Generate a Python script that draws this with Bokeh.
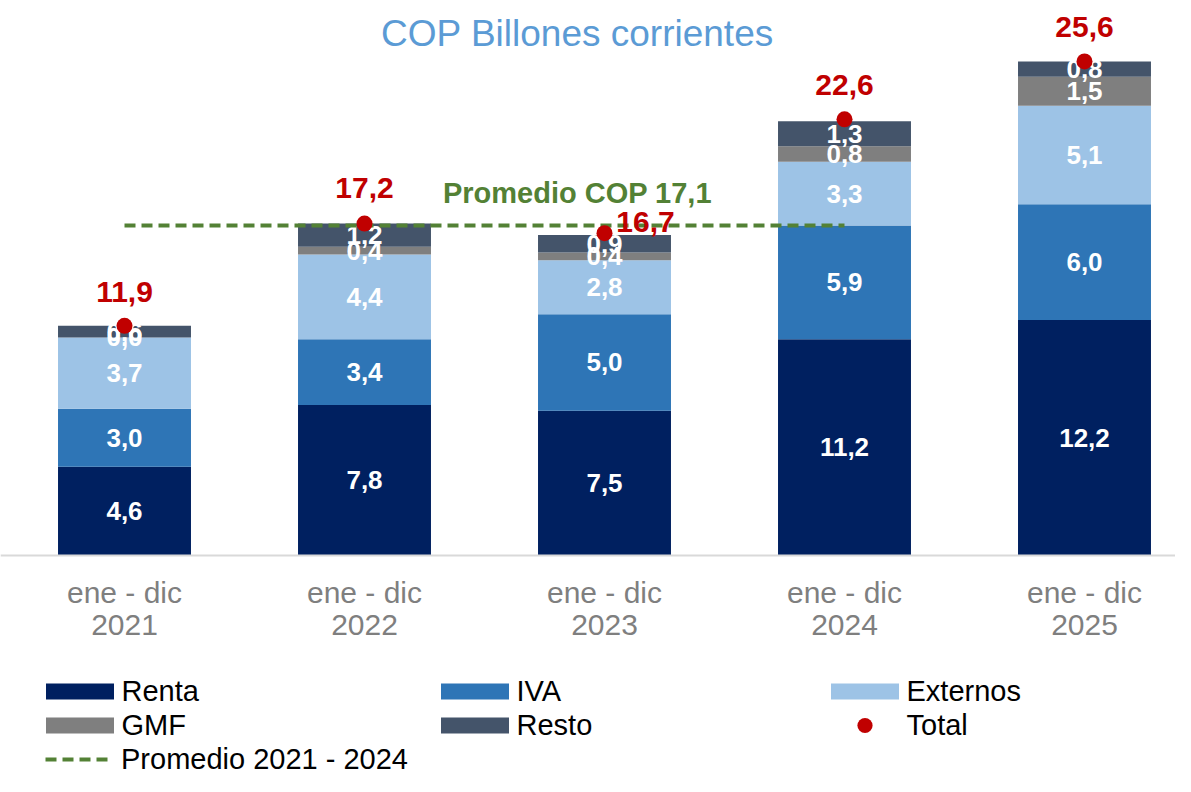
from bokeh.plotting import figure
from bokeh.models import ColumnDataSource, Range1d, Span, Legend, LegendItem
from bokeh.core.properties import value
from bokeh.embed import file_html
from bokeh.resources import INLINE

# ---------------- data ----------------
periods = ["ene - dic\n2021", "ene - dic\n2022", "ene - dic\n2023", "ene - dic\n2024", "ene - dic\n2025"]
renta = [4.6, 7.8, 7.5, 11.2, 12.2]
iva = [3.0, 3.4, 5.0, 5.9, 6.0]
externos = [3.7, 4.4, 2.8, 3.3, 5.1]
gmf = [0.0, 0.4, 0.4, 0.8, 1.5]
resto = [0.6, 1.2, 0.9, 1.3, 0.8]
total = [11.9, 17.2, 16.7, 22.6, 25.6]
promedio = 17.1
promedio_label = "Promedio COP 17,1"
title_text = "COP Billones corrientes"
series_names = ["Renta", "IVA", "Externos", "GMF", "Resto"]

# ---------------- styles ----------------
colors = ["#002060", "#2E75B6", "#9DC3E6", "#7F7F7F", "#44546A"]
red = "#C00000"
green = "#538135"
FONT = "Liberation Sans"
total_dx = [0, 0, 41, 0, 0]
total_dy = [-34, -36, -11, -34, -34]

W, H = 1175, 776
xs = list(range(len(periods)))

p = figure(width=W, height=H, output_backend="svg", toolbar_location=None,
           x_range=Range1d(-0.51667, 4.37917), y_range=Range1d(-11.451, 28.756),
           x_axis_location=None, y_axis_location=None, min_border=0)
p.outline_line_color = None
p.xgrid.visible = False
p.ygrid.visible = False
p.background_fill_color = "white"

data = dict(x=xs, Renta=renta, IVA=iva, Externos=externos, GMF=gmf, Resto=resto)
src = ColumnDataSource(data)
bars = p.vbar_stack(series_names, x="x", width=0.554, color=colors, line_color=None, source=src)

# baseline axis line
p.add_layout(Span(location=0, dimension="width", line_color="#D9D9D9", line_width=2))

# segment labels
lx, ly, lt = [], [], []
stacks = [renta, iva, externos, gmf, resto]
for i in xs:
    base = 0.0
    for s in stacks:
        v = s[i]
        lx.append(i)
        ly.append(base + v / 2)
        lt.append(f"{v:.1f}".replace(".", ","))
        base += v
p.text(x=lx, y=ly, text=lt, text_color="white", text_font=value(FONT), text_font_style="bold",
       text_font_size="26px", text_align="center", text_baseline="middle")

# category labels (two lines)
line1 = [s.split("\n")[0] for s in periods]
line2 = [s.split("\n")[1] for s in periods]
zero = [0] * len(xs)
p.text(x=xs, y=zero, text=line1, text_color="#7F7F7F", text_font=value(FONT), text_font_size="30px",
       text_align="center", text_baseline="middle", y_offset=37)
p.text(x=xs, y=zero, text=line2, text_color="#7F7F7F", text_font=value(FONT), text_font_size="30px",
       text_align="center", text_baseline="middle", y_offset=70)

# average line (2021 - 2024)
avg_line = p.line(x=[xs[0], xs[3]], y=[promedio, promedio], line_color=green, line_width=4,
                  line_dash="11 6")
p.text(x=[1.8875], y=[promedio], text=[promedio_label], text_color=green, text_font=value(FONT),
       text_font_style="bold", text_font_size="29px", text_align="center", text_baseline="middle",
       y_offset=-32)

# totals
tot = p.scatter(x=xs, y=total, size=16, color=red, line_color=None)
p.text(x=xs, y=total, text=[f"{v:.1f}".replace(".", ",") for v in total], text_color=red,
       text_font=value(FONT), text_font_style="bold", text_font_size="30px", text_align="center",
       text_baseline="middle", x_offset=total_dx, y_offset=total_dy)

# title
p.text(x=[1.8875], y=[28.756], text=[title_text], text_color="#5B9BD5", text_font=value(FONT),
       text_font_size="37px", text_align="center", text_baseline="alphabetic", y_offset=33)

# legends (three columns)
def mk_legend(items, x, y, gh=20, gw=85, standoff=0):
    return Legend(items=items, location=(x, y), orientation="vertical",
                  glyph_width=gw, glyph_height=gh, label_height=33, spacing=1,
                  label_standoff=standoff, padding=0, margin=0, border_line_color=None,
                  background_fill_alpha=0, label_text_font=FONT, label_text_font_size="29px",
                  label_text_color="black")

leg1 = mk_legend([LegendItem(label="Renta", renderers=[bars[0]]),
                  LegendItem(label="GMF", renderers=[bars[3]])], 36.5, 34.5)
leg1b = mk_legend([LegendItem(label="Promedio 2021 - 2024", renderers=[avg_line])], 45, 0.5,
                  gw=68, standoff=8)
leg2 = mk_legend([LegendItem(label="IVA", renderers=[bars[1]]),
                  LegendItem(label="Resto", renderers=[bars[4]])], 431.5, 34.5)
leg3 = mk_legend([LegendItem(label="Externos", renderers=[bars[2]])], 821.5, 68.5)
leg4 = mk_legend([LegendItem(label="Total", renderers=[tot])], 821.5, 32, gh=38)
for lg in (leg1, leg1b, leg2, leg3, leg4):
    p.add_layout(lg, "center")

open("out.html", "w").write(file_html(p, INLINE))
